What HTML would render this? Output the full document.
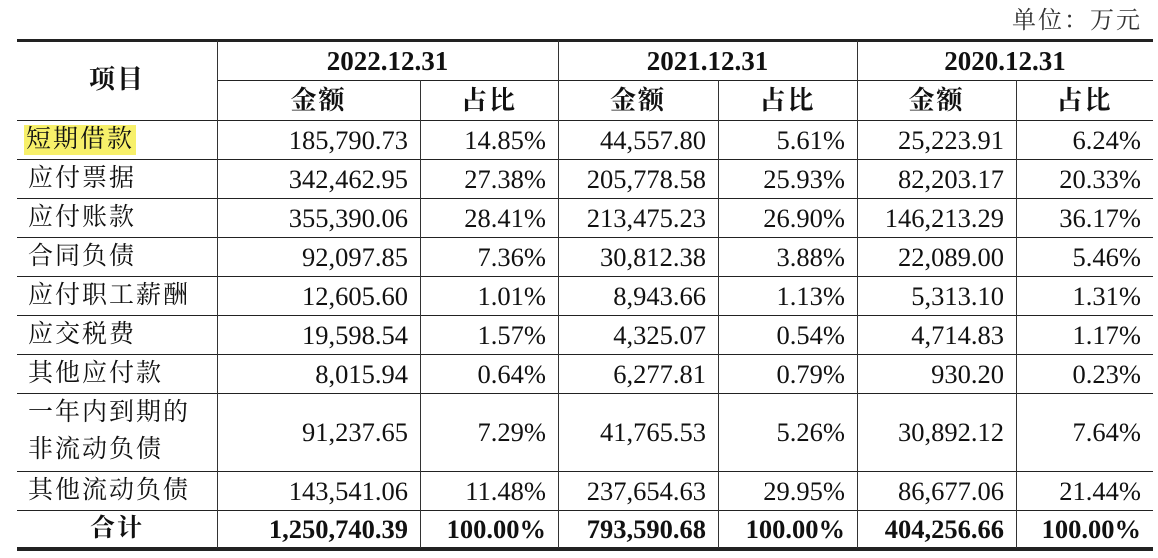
<!DOCTYPE html>
<html><head><meta charset="utf-8"><style>
body{margin:0;width:1158px;height:558px;background:#fff;position:relative;overflow:hidden;font-family:"Liberation Serif","Noto Serif CJK SC",serif;color:#111}
.h{position:absolute;background:#222;height:1px}
.v{position:absolute;background:#333;width:1px}
.t{position:absolute;font-size:26.5px;line-height:38px;white-space:nowrap}
.c{text-align:center}.r{text-align:right}
.b{font-weight:bold}
.cn{font-family:"Liberation Serif","Noto Serif CJK SC",serif;font-size:25px;letter-spacing:2px}
</style></head><body>
<div class="t cn" style="left:960px;top:2px;width:182px;text-align:right;color:#333;font-size:24px">单位：万元</div>
<div id="tbl"></div>
<script>
const cols=[17,217,420,558,718,857,1016,1153];
const rowsY=[120,159,198,237,276,315,354,393,471,510,548];
const labels=["短期借款","应付票据","应付账款","合同负债","应付职工薪酬","应交税费","其他应付款","一年内到期的<br>非流动负债","其他流动负债","合计"];
const amt2022=["185,790.73","342,462.95","355,390.06","92,097.85","12,605.60","19,598.54","8,015.94","91,237.65","143,541.06","1,250,740.39"];
const pct2022=["14.85%","27.38%","28.41%","7.36%","1.01%","1.57%","0.64%","7.29%","11.48%","100.00%"];
const amt2021=["44,557.80","205,778.58","213,475.23","30,812.38","8,943.66","4,325.07","6,277.81","41,765.53","237,654.63","793,590.68"];
const pct2021=["5.61%","25.93%","26.90%","3.88%","1.13%","0.54%","0.79%","5.26%","29.95%","100.00%"];
const amt2020=["25,223.91","82,203.17","146,213.29","22,089.00","5,313.10","4,714.83","930.20","30,892.12","86,677.06","404,256.66"];
const pct2020=["6.24%","20.33%","36.17%","5.46%","1.31%","1.17%","0.23%","7.64%","21.44%","100.00%"];
const years=["2022.12.31","2021.12.31","2020.12.31"];
const T=document.getElementById('tbl');
function add(cls,st,html){const d=document.createElement('div');d.className=cls;d.style.cssText=st;if(html!==undefined)d.innerHTML=html;T.appendChild(d);return d;}
let e=add('h','left:17px;top:39px;width:1136px;height:3px');


e=add('h','left:217px;top:80px;width:936px');


rowsY.forEach((y,i)=>{const last=i==rowsY.length-1;
 e=add('h','left:17px;top:'+(last?y-1:y)+'px;width:1136px;height:'+(last?4:1)+'px');
 
 });
cols.slice(1,7).forEach((x,i)=>{const top=(i==1||i==3||i==5)?80:40;
 e=add('v','left:'+x+'px;top:'+top+'px;height:'+(548-top)+'px');
 
 });
e=add('t cn b c','left:17px;top:61px;width:200px;font-size:26px','项目');


years.forEach((y,i)=>{
 e=add('t b c','left:'+cols[1+2*i]+'px;top:42px;width:'+(cols[3+2*i]-cols[1+2*i])+'px;font-size:27px',y);
 
 
 e=add('t cn b c','left:'+cols[1+2*i]+'px;top:82px;width:'+(cols[2+2*i]-cols[1+2*i])+'px;font-size:26px','金额');
 
 
 e=add('t cn b c','left:'+cols[2+2*i]+'px;top:82px;width:'+(cols[3+2*i]-cols[2+2*i])+'px;font-size:26px','占比');
 
 
});
const series=[amt2022,pct2022,amt2021,pct2021,amt2020,pct2020];
labels.forEach((lab,r)=>{
 const y0=rowsY[r],y1=rowsY[r+1],mid=(y0+y1)/2;const tot=r==labels.length-1;
 if(r==7){e=add('t cn','left:28px;top:'+(y0+1)+'px;line-height:37px',lab);}
 else if(tot){e=add('t cn b c','left:17px;top:'+(mid-19)+'px;width:200px',lab);}
 else{e=add('t cn','left:28px;top:'+(mid-19)+'px',lab);}
 if(r==0){e.style.background='#f7f06a';e.style.lineHeight='30px';e.style.top=(mid-15)+'px';e.style.left='24px';e.style.padding='0 2px';}
 
 
 series.forEach((s,j)=>{
  e=add('t r'+(tot?' b':''),'left:'+cols[j+1]+'px;top:'+(mid-19)+'px;width:'+(cols[j+2]-cols[j+1]-12)+'px',s[r]);
  
  
 });
});
</script>
</body></html>
